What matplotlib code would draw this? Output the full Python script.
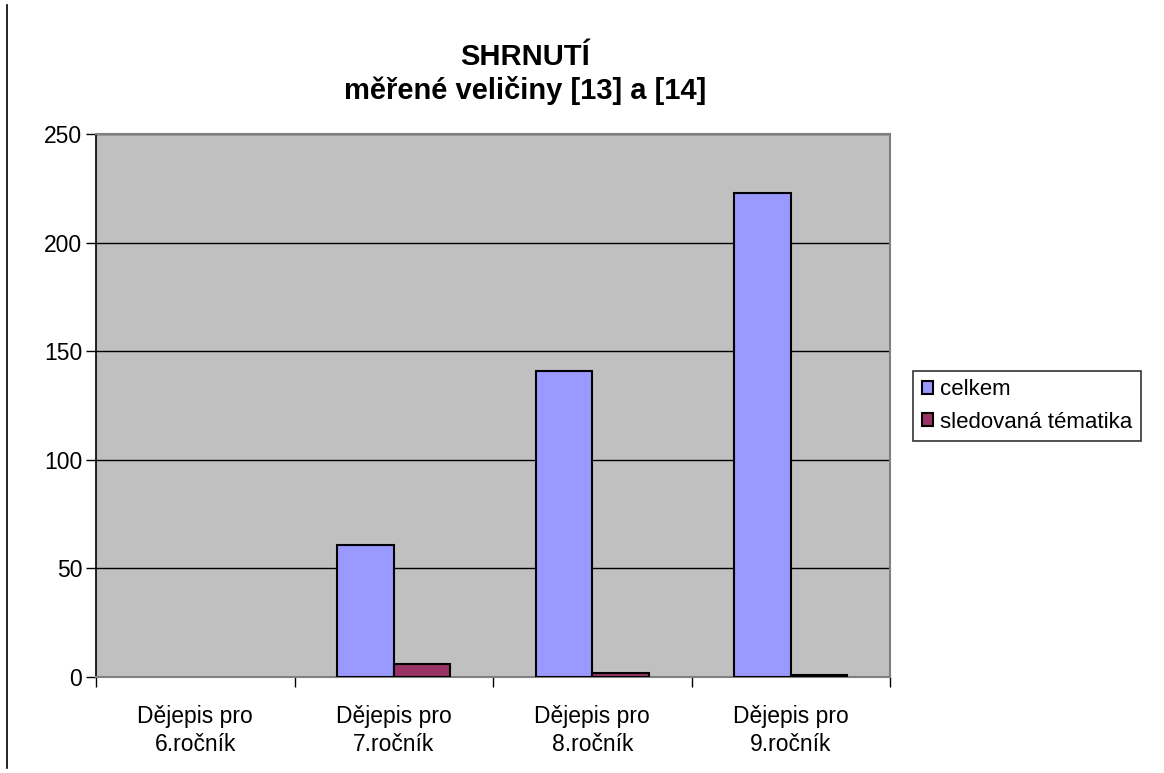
import matplotlib
matplotlib.use("Agg")
import matplotlib.pyplot as plt
import numpy as np
from matplotlib.lines import Line2D

categories = ["Dějepis pro\n6.ročník", "Dějepis pro\n7.ročník", "Dějepis pro\n8.ročník", "Dějepis pro\n9.ročník"]
celkem = [0, 61, 141, 223]
sledovana = [0, 6, 2, 1]
series_names = ["celkem", "sledovaná tématika"]
yticks = [0, 50, 100, 150, 200, 250]

plt.rcParams['font.family'] = ['Liberation Sans', 'DejaVu Sans']

fig = plt.figure(figsize=(11.64, 7.73), dpi=100)
ax = fig.add_axes([96/1164, 1-677/773, (890-96)/1164, (677-134)/773])
ax.set_facecolor('#C0C0C0')

x = np.arange(len(categories))
w = 1/3.5
lw1 = [1.5 if v > 0 else 0 for v in celkem]
lw2 = [1.5 if v > 0 else 0 for v in sledovana]
ax.bar(x - w/2, celkem, w, color='#9999FF', edgecolor='black', linewidth=lw1, label=series_names[0], zorder=3)
ax.bar(x + w/2, sledovana, w, color='#993366', edgecolor='black', linewidth=lw2, label=series_names[1], zorder=3)

ax.set_xlim(-0.5, len(categories) - 0.5)
ax.set_ylim(0, 250)
ax.set_yticks(yticks)
ax.set_yticklabels([str(v) for v in yticks], fontsize=16.5)
ax.yaxis.grid(True, color='black', linewidth=1, zorder=1)
ax.set_axisbelow(True)

ax.set_xticks(np.arange(len(categories) + 1) - 0.5)
ax.set_xticklabels([])
ax.set_xticks(x, minor=True)
ax.set_xticklabels(categories, minor=True, fontsize=16.5, linespacing=1.3)
ax.tick_params(axis='x', which='minor', length=0, pad=20)
ax.tick_params(axis='x', which='major', length=7, direction='out', width=1)
ax.tick_params(axis='y', length=7, direction='out', width=1, pad=3)

for s in ['top', 'right']:
    ax.spines[s].set_color('#808080')
    ax.spines[s].set_linewidth(1.5)
ax.spines['left'].set_color('black')
ax.spines['bottom'].set_color('#808080')
ax.spines['left'].set_linewidth(1.2)
ax.spines['bottom'].set_linewidth(1.5)

fig.text(525/1164, 1-65/773, "SHRNUTÍ", ha='center', va='baseline', fontsize=21, fontweight='bold')
fig.text(525/1164, 1-99/773, "měřené veličiny [13] a [14]", ha='center', va='baseline', fontsize=21, fontweight='bold')

leg = ax.legend(loc='center left', bbox_to_anchor=(913/1164, 1-406/773), bbox_transform=fig.transFigure,
                fontsize=16, frameon=True, fancybox=False, edgecolor='black', handlelength=0.5,
                handleheight=0.5, handletextpad=0.3, borderpad=0.4, labelspacing=0.5, borderaxespad=0)
leg.get_frame().set_linewidth(1.2)
for h in leg.legend_handles:
    h.set_edgecolor('black')
    h.set_linewidth(1.5)

fig.add_artist(Line2D([7/1164, 7/1164], [1-5/773, 1-768/773], transform=fig.transFigure, color='black', linewidth=1.2))

fig.savefig("out.png", dpi=100)
